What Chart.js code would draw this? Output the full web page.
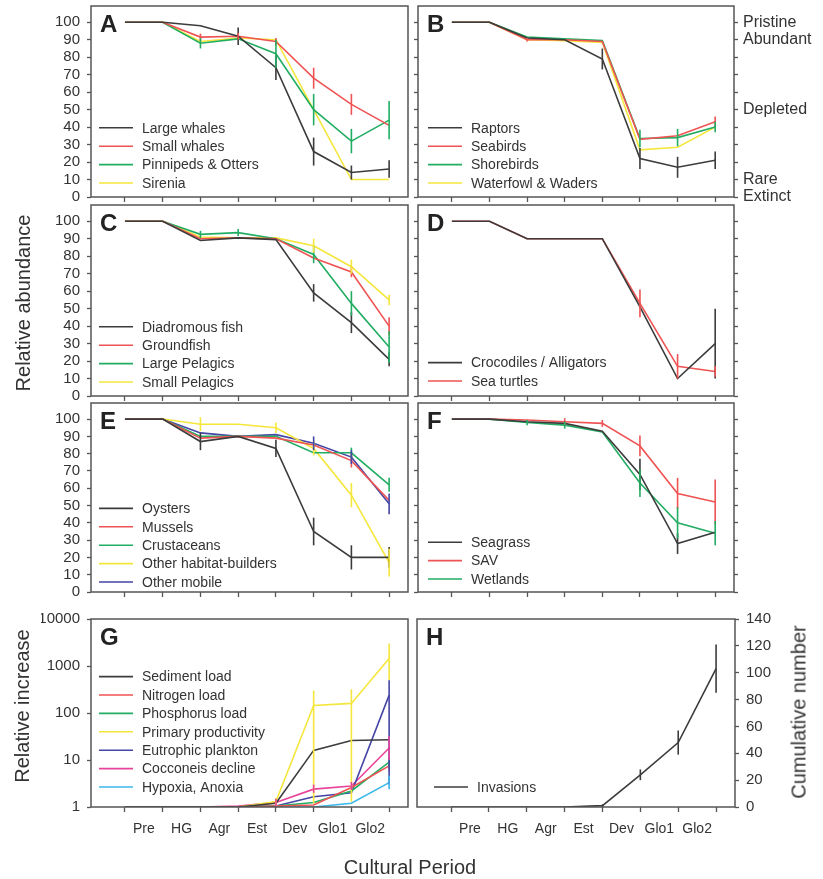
<!DOCTYPE html>
<html>
<head>
<meta charset="utf-8">
<script src="https://cdn.jsdelivr.net/npm/chart.js@4.4.1/dist/chart.umd.min.js"></script>
<style>
    body { margin: 0; background: #fff; }
    #wrap { position: relative; width: 823px; height: 879px; overflow: hidden; font-family: "Liberation Sans", Arial, Helvetica, sans-serif; color: #333; }
    #wrap canvas { position: absolute; left: 0; top: 0; }
    .ttl { position: absolute; font-size: 20px; white-space: nowrap; color: #333; transform: translate(-50%, -50%); }
    .rot { transform: translate(-50%, -50%) rotate(-90deg); }
</style>
</head>
<body>
<div id="wrap">
    <canvas id="panelA" width="823" height="879"></canvas>
    <canvas id="panelB" width="823" height="879"></canvas>
    <canvas id="panelC" width="823" height="879"></canvas>
    <canvas id="panelD" width="823" height="879"></canvas>
    <canvas id="panelE" width="823" height="879"></canvas>
    <canvas id="panelF" width="823" height="879"></canvas>
    <canvas id="panelG" width="823" height="879"></canvas>
    <canvas id="panelH" width="823" height="879"></canvas>
    <div class="ttl rot" style="left:23px;top:303px">Relative abundance</div>
    <div class="ttl rot" style="left:22px;top:706px">Relative increase</div>
    <div class="ttl rot" style="left:799px;top:712px">Cumulative number</div>
    <div class="ttl" style="left:410px;top:867px">Cultural Period</div>
</div>
<script>
// cultural periods (labels sit between the boundary points)
const periods = ['Pre', 'HG', 'Agr', 'Est', 'Dev', 'Glo1', 'Glo2'];
const boundaries = [0, 1, 2, 3, 4, 5, 6, 7];

// y ticks
const abundanceTicks = [0, 10, 20, 30, 40, 50, 60, 70, 80, 90, 100];
const statusValues = [100, 90, 50, 10, 0];
const statusNames = ['Pristine', 'Abundant', 'Depleted', 'Rare', 'Extinct'];
const increaseTicks = [1, 10, 100, 1000, 10000];
const cumulativeTicks = [0, 20, 40, 60, 80, 100, 120, 140];

// A - marine mammals
const largeWhales = [100, 100, 98, 92, 74, 26, 14, 16];
const largeWhalesErr = [null, null, null, 5, 7, 8, 4, 5];
const smallWhales = [100, 100, 91.5, 92, 89, 68, 53, 41];
const smallWhalesErr = [null, null, 2, 2, 2, 6, 6, null];
const pinnipeds = [100, 100, 88, 90.5, 82, 50, 32, 44];
const pinnipedsErr = [null, null, 3, null, 8, 9, 7, 11];
const sirenia = [100, 100, 89, 91, 90, 50, 10, 10];

// B - birds
const raptors = [100, 100, 91, 90, 79, 22, 17, 21];
const raptorsErr = [null, null, null, null, 6, 6, 6, 5];
const seabirds = [100, 100, 90, 90, 89, 33, 35, 43];
const seabirdsErr = [null, null, 1, null, null, null, null, 3];
const shorebirds = [100, 100, 91.5, 90.5, 89.5, 33.5, 34, 40];
const shorebirdsErr = [null, null, null, null, null, 5, 5, 3];
const waterfowl = [100, 100, 90, 89.5, 88.5, 27, 28.5, 40];

// C - fish
const diadromous = [100, 100, 89, 90.5, 89.5, 59, 42, 21];
const diadromousErr = [null, null, null, null, null, 5, 6, 4];
const groundfish = [100, 100, 90, 90.5, 90, 79, 71, 40];
const groundfishErr = [null, null, null, null, null, null, 3, 5];
const largePelagics = [100, 100, 92.5, 93.5, 90, 81, 53, 28];
const largePelagicsErr = [null, null, 2, 2, null, 5, 7, 9];
const smallPelagics = [100, 100, 91, 90.5, 90.5, 86, 74, 55];
const smallPelagicsErr = [null, null, null, null, null, 4, 4, 3];

// D - reptiles
const crocodiles = [100, 100, 90, 90, 90, 51, 10, 30];
const crocodilesErr = [null, null, null, null, null, null, null, 20];
const seaTurtles = [100, 100, 90, 90, 90, 53, 17, 14];
const seaTurtlesErr = [null, null, null, null, null, 8, 7, 3];

// E - invertebrates
const oysters = [100, 100, 87, 90, 83, 35, 20, 20];
const oystersErr = [null, null, 5, null, 5, 8, 7, 6];
const mussels = [100, 100, 89, 90, 89, 85, 76, 53];
const musselsErr = [null, null, null, null, null, null, 4, null];
const crustaceans = [100, 100, 90, 90, 90, 80.5, 80.5, 62];
const crustaceansErr = [null, null, null, null, null, null, 3, 4];
const habitatBuilders = [100, 100, 97, 97, 95, 83, 56, 17];
const habitatBuildersErr = [null, null, 4, null, 3, 4, 7, 8];
const otherMobile = [100, 100, 92, 90, 91, 86, 78, 51];
const otherMobileErr = [null, null, null, null, null, 4, 4, 6];

// F - vegetation
const seagrass = [100, 100, 98.5, 97.5, 93, 68, 28, 34.5];
const seagrassErr = [null, null, null, null, null, 9, 6, null];
const sav = [100, 100, 99.5, 98.5, 97.5, 84.5, 57, 52];
const savErr = [null, null, null, 2, 2, 6, 9, 13];
const wetlands = [100, 100, 98, 96.5, 92.5, 63, 40, 34];
const wetlandsErr = [null, null, 1.5, 2, null, 8, 9, 7];

// G - water quality (relative increase, [low, high] error ranges)
const sediment = [1, 1, 1, 1, 1.2, 16, 26, 27];
const nitrogen = [1, 1, 1, 1, 1.05, 1.1, 2.6, 7.5];
const nitrogenErr = [null, null, null, null, null, null, null, [6, 9.5]];
const phosphorus = [1, 1, 1, 1, 1.05, 1.25, 2.2, 9];
const phosphorusErr = [null, null, null, null, null, null, null, [7, 11]];
const productivity = [1, 1, 1, 1, 1.3, 145, 160, 1450];
const productivityErr = [null, null, null, null, [1.05, 1.55], [1.2, 300], [1.3, 320], [500, 3000]];
const eutrophic = [1, 1, 1, 1, 1.05, 1.65, 2.0, 240];
const eutrophicErr = [null, null, null, null, null, null, null, [3, 500]];
const cocconeis = [1, 1, 1, 1.05, 1.25, 2.4, 2.8, 18];
const cocconeisErr = [null, null, null, null, [1.0, 1.5], [2.0, 3.0], [2.3, 3.4], [10, 32]];
const hypoxia = [1, 1, 1, 1, 1, 1, 1.2, 3.3];
const hypoxiaErr = [null, null, null, null, null, null, null, [2.4, 4.6]];

// H - invasions
const invasions = [0, 0, 0, 0, 1, 24, 48, 103];
const invasionsErr = [null, null, null, null, 1, 4, 9, 18];

// 顏色
const BLACK = '#3c3c3c', RED = '#ef5353', GREEN = '#22ad62', YELLOW = '#f5e63c';
const BLUE = '#4545a5', PINK = '#e8439a', CYAN = '#3cb7ea';
const INK = '#555';
const FONT = '"Liberation Sans", Arial, Helvetica, sans-serif';

Chart.defaults.font.family = FONT;
Chart.defaults.color = '#333';

const W = 823, H = 879, YW = 50, RW = 90, XH = 40;
const xTickValues = periods.flatMap((p, i) => [i, i + 0.5]).concat(periods.length);

// 誤差棒
const errorBars = {
    id: 'errorBars',
    afterDatasetsDraw(chart) {
        const { ctx, scales } = chart;
        chart.data.datasets.forEach(ds => {
            if (!ds.errors) return;
            ctx.save();
            ctx.strokeStyle = ds.borderColor;
            ctx.lineWidth = 1.6;
            ds.errors.forEach((e, j) => {
                if (e == null) return;
                const v = ds.data[j];
                const lo = Array.isArray(e) ? e[0] : v - e;
                const hi = Array.isArray(e) ? e[1] : v + e;
                const px = scales.x.getPixelForValue(chart.data.labels[j]);
                ctx.beginPath();
                ctx.moveTo(px, scales.y.getPixelForValue(lo));
                ctx.lineTo(px, scales.y.getPixelForValue(hi));
                ctx.stroke();
            });
            ctx.restore();
        });
    }
};

// 外框
const frame = {
    id: 'frame',
    afterDraw(chart) {
        const { ctx, chartArea: a } = chart;
        ctx.save();
        ctx.strokeStyle = INK;
        ctx.lineWidth = 1.5;
        ctx.strokeRect(a.left, a.top, a.right - a.left, a.bottom - a.top);
        ctx.restore();
    }
};

// 圖例 (畫在圖內左下)
const panelLegend = {
    id: 'panelLegend',
    afterDraw(chart, args, o) {
        const { ctx, chartArea: a } = chart;
        const ds = chart.data.datasets;
        ctx.save();
        ctx.font = '14px ' + FONT;
        ctx.textBaseline = 'middle';
        ds.forEach((d, i) => {
            const yy = a.bottom - o.bottom - (ds.length - 1 - i) * 18.4;
            const x0 = a.left + o.inset;
            ctx.strokeStyle = d.borderColor;
            ctx.lineWidth = 1.6;
            ctx.beginPath();
            ctx.moveTo(x0, yy);
            ctx.lineTo(x0 + 34, yy);
            ctx.stroke();
            ctx.fillStyle = '#333';
            ctx.fillText(d.label, x0 + 43, yy + 1);
        });
        ctx.restore();
    }
};

// 面板字母
const panelTag = {
    id: 'panelTag',
    afterDraw(chart, args, o) {
        const { ctx, chartArea: a } = chart;
        ctx.save();
        ctx.font = 'bold 24px ' + FONT;
        ctx.fillStyle = '#222';
        ctx.textBaseline = 'alphabetic';
        ctx.fillText(o.text, a.left + 9, a.top + 26);
        ctx.restore();
    }
};

function series(label, data, color, errors) {
    return { label, data, errors, borderColor: color, backgroundColor: color, borderWidth: 1.6, pointRadius: 0, tension: 0, fill: false };
}

function makePanel(id, box, tag, datasets, opt) {
    const [l, t, r, b] = box;
    const valueRight = !!opt.valueRight;
    const hasLeft = !valueRight;
    const hasRight = valueRight || !!opt.rightAxis;
    const yTicks = opt.ticks || abundanceTicks;
    const yMin = opt.min !== undefined ? opt.min : 0;
    const yMax = opt.max !== undefined ? opt.max : 109.3;

    const scales = {
        x: {
            type: 'linear', min: -0.9, max: 7.5,
            afterBuildTicks: s => { s.ticks = xTickValues.map(v => ({ value: v })); },
            ticks: {
                autoSkip: false, maxRotation: 0, minRotation: 0, padding: 9, font: { size: 14 },
                callback: v => (opt.showPeriods && !Number.isInteger(v)) ? periods[Math.floor(v)] : ''
            },
            grid: {
                drawOnChartArea: false, tickLength: 5, tickWidth: 1.3,
                tickColor: c => (c.tick && Number.isInteger(c.tick.value)) ? INK : 'rgba(0,0,0,0)'
            },
            border: { display: false },
            afterFit: s => { s.height = XH; s.paddingLeft = 0; s.paddingRight = 0; }
        },
        y: {
            type: opt.log ? 'logarithmic' : 'linear',
            position: valueRight ? 'right' : 'left',
            min: yMin, max: yMax,
            afterBuildTicks: s => { s.ticks = yTicks.map(v => ({ value: v })); },
            ticks: {
                autoSkip: false, padding: 7, font: { size: 15 },
                callback: v => opt.showY ? String(v) : ''
            },
            grid: { drawOnChartArea: false, tickLength: 4, tickWidth: 1.3, tickColor: INK },
            border: { display: false },
            afterFit: s => { s.width = valueRight ? RW : YW; s.paddingTop = 0; s.paddingBottom = 0; }
        }
    };
    if (opt.rightAxis) {
        scales.y2 = {
            type: 'linear', position: 'right', min: yMin, max: yMax,
            afterBuildTicks: s => { s.ticks = yTicks.map(v => ({ value: v })); },
            ticks: {
                autoSkip: false, padding: 5, font: { size: 16 },
                callback: v => {
                    if (!opt.statusLabels) return '';
                    const k = statusValues.indexOf(v);
                    return k >= 0 ? statusNames[k] : '';
                }
            },
            grid: { drawOnChartArea: false, tickLength: 4, tickWidth: 1.3, tickColor: INK },
            border: { display: false },
            afterFit: s => { s.width = RW; s.paddingTop = 0; s.paddingBottom = 0; }
        };
    }

    return new Chart(document.getElementById(id), {
        type: 'line',
        data: { labels: boundaries, datasets },
        options: {
            responsive: false,
            animation: false,
            events: [],
            layout: {
                padding: {
                    left: l - (hasLeft ? YW : 0),
                    top: t,
                    right: W - r - (hasRight ? RW : 0),
                    bottom: H - b - XH
                }
            },
            scales,
            plugins: {
                legend: { display: false },
                tooltip: { enabled: false },
                panelLegend: opt.legend,
                panelTag: { text: tag }
            }
        },
        plugins: [errorBars, frame, panelLegend, panelTag]
    });
}

makePanel('panelA', [91, 6, 408, 197], 'A', [
    series('Large whales', largeWhales, BLACK, largeWhalesErr),
    series('Small whales', smallWhales, RED, smallWhalesErr),
    series('Pinnipeds & Otters', pinnipeds, GREEN, pinnipedsErr),
    series('Sirenia', sirenia, YELLOW)
], { showY: true, legend: { inset: 8, bottom: 14 } });

makePanel('panelB', [418, 6, 734, 197], 'B', [
    series('Raptors', raptors, BLACK, raptorsErr),
    series('Seabirds', seabirds, RED, seabirdsErr),
    series('Shorebirds', shorebirds, GREEN, shorebirdsErr),
    series('Waterfowl & Waders', waterfowl, YELLOW)
], { rightAxis: true, statusLabels: true, legend: { inset: 10, bottom: 14 } });

makePanel('panelC', [91, 205, 408, 396], 'C', [
    series('Diadromous fish', diadromous, BLACK, diadromousErr),
    series('Groundfish', groundfish, RED, groundfishErr),
    series('Large Pelagics', largePelagics, GREEN, largePelagicsErr),
    series('Small Pelagics', smallPelagics, YELLOW, smallPelagicsErr)
], { showY: true, legend: { inset: 8, bottom: 14 } });

makePanel('panelD', [418, 205, 734, 396], 'D', [
    series('Crocodiles / Alligators', crocodiles, BLACK, crocodilesErr),
    series('Sea turtles', seaTurtles, RED, seaTurtlesErr)
], { rightAxis: true, legend: { inset: 10, bottom: 15 } });

makePanel('panelE', [91, 403, 408, 592], 'E', [
    series('Oysters', oysters, BLACK, oystersErr),
    series('Mussels', mussels, RED, musselsErr),
    series('Crustaceans', crustaceans, GREEN, crustaceansErr),
    series('Other habitat-builders', habitatBuilders, YELLOW, habitatBuildersErr),
    series('Other mobile', otherMobile, BLUE, otherMobileErr)
], { showY: true, legend: { inset: 8, bottom: 10 } });

makePanel('panelF', [418, 403, 734, 592], 'F', [
    series('Seagrass', seagrass, BLACK, seagrassErr),
    series('SAV', sav, RED, savErr),
    series('Wetlands', wetlands, GREEN, wetlandsErr)
], { rightAxis: true, legend: { inset: 10, bottom: 13 } });

makePanel('panelG', [91, 619, 408, 807], 'G', [
    series('Sediment load', sediment, BLACK),
    series('Nitrogen load', nitrogen, RED, nitrogenErr),
    series('Phosphorus load', phosphorus, GREEN, phosphorusErr),
    series('Primary productivity', productivity, YELLOW, productivityErr),
    series('Eutrophic plankton', eutrophic, BLUE, eutrophicErr),
    series('Cocconeis decline', cocconeis, PINK, cocconeisErr),
    series('Hypoxia, Anoxia', hypoxia, CYAN, hypoxiaErr)
], { log: true, min: 1, max: 10000, ticks: increaseTicks, showY: true, showPeriods: true, legend: { inset: 8, bottom: 20 } });

makePanel('panelH', [417, 619, 735, 807], 'H', [
    series('Invasions', invasions, BLACK, invasionsErr)
], { valueRight: true, min: 0, max: 140, ticks: cumulativeTicks, showY: true, showPeriods: true, legend: { inset: 17, bottom: 20 } });
</script>
</body>
</html>
